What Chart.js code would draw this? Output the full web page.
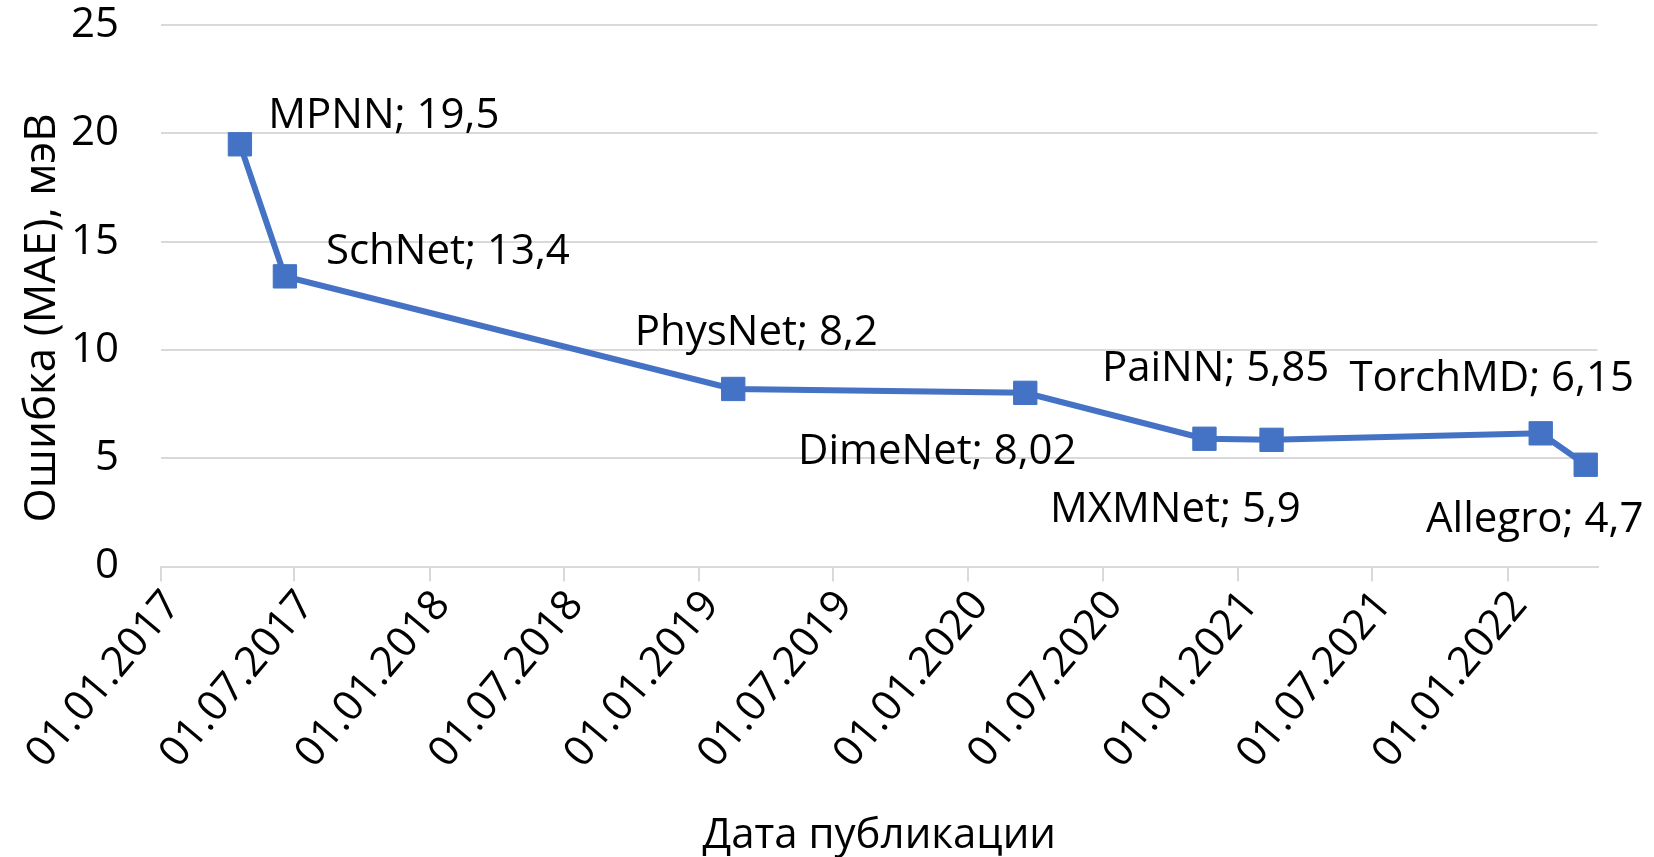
<!DOCTYPE html>
<html><head><meta charset="utf-8">
<script src="https://cdn.jsdelivr.net/npm/chart.js@4.4.1/dist/chart.umd.min.js"></script>
<style>html,body{margin:0;padding:0;background:#fff;overflow:hidden}#wrap{width:1654px;height:857px;position:relative}</style>
</head><body><div id="wrap"><canvas id="c" width="1654" height="857"></canvas></div>
<script>
// ---- data ----
const models = ['MPNN', 'SchNet', 'PhysNet', 'DimeNet', 'MXMNet', 'PaiNN', 'TorchMD', 'Allegro'];
const pubDates = ['18.04.2017', '18.06.2017', '16.02.2019', '18.03.2020', '16.11.2020', '15.02.2021', '15.02.2022', '17.04.2022'];
const maeValues = [19.5, 13.4, 8.2, 8.02, 5.9, 5.85, 6.15, 4.7];
const tickLabels = ['01.01.2017', '01.07.2017', '01.01.2018', '01.07.2018', '01.01.2019', '01.07.2019',
                    '01.01.2020', '01.07.2020', '01.01.2021', '01.07.2021', '01.01.2022'];
const axisStart = '01.01.2017';
const axisEnd = '03.05.2022';
const yTicks = [0, 5, 10, 15, 20, 25];
const xTitle = 'Дата публикации';
const yTitle = 'Ошибка (MAE), мэВ';

// ---- helpers ----
function dayOf(s) {
  const [d, m, y] = s.split('.').map(Number);
  const [d0, m0, y0] = axisStart.split('.').map(Number);
  return (Date.UTC(y, m - 1, d) - Date.UTC(y0, m0 - 1, d0)) / 86400000;
}
const points = pubDates.map((d, i) => ({ x: dayOf(d), y: maeValues[i] }));
const fmt = v => String(v).replace('.', ',');

// ---- style ----
const BLUE = '#4472C4';
const GRID = '#d9d9d9';
const FONT = "'Open Sans', 'DejaVu Sans', sans-serif";
const FS = 42;
// label placement: [dx from point to text centre, dy from point to baseline]
const labelOffsets = [[144, -16], [163, -12], [23, -44], [-88, 71], [-29, 83], [-56, -59], [-49, -42], [-51, 67]];

Chart.defaults.font.family = FONT;
Chart.defaults.font.size = FS;
Chart.defaults.color = '#000';

const labelPlugin = {
  id: 'pointLabels',
  afterDatasetsDraw(chart) {
    const ctx = chart.ctx;
    const meta = chart.getDatasetMeta(0);
    ctx.save();
    ctx.font = FS + 'px ' + FONT;
    ctx.fillStyle = '#000';
    ctx.textAlign = 'center';
    ctx.textBaseline = 'alphabetic';
    meta.data.forEach((el, i) => {
      const [dx, dy] = labelOffsets[i];
      ctx.fillText(models[i] + '; ' + fmt(maeValues[i]), el.x + dx, el.y + dy);
    });
    ctx.restore();
  }
};

new Chart(document.getElementById('c'), {
  type: 'line',
  data: {
    datasets: [{
      data: points,
      borderColor: BLUE,
      backgroundColor: BLUE,
      borderWidth: 6,
      pointStyle: 'rect',
      pointRadius: 16.5,
      pointBorderWidth: 1,
      pointBorderColor: BLUE,
      pointBackgroundColor: BLUE,
      tension: 0,
      clip: false
    }]
  },
  options: {
    responsive: false,
    animation: false,
    events: [],
    layout: { padding: { left: 0, top: 25, right: 56.5, bottom: 0 } },
    plugins: { legend: { display: false }, tooltip: { enabled: false } },
    scales: {
      x: {
        type: 'linear',
        min: dayOf(axisStart),
        max: dayOf(axisEnd),
        afterBuildTicks: s => { s.ticks = tickLabels.map(t => ({ value: dayOf(t) })); },
        afterFit: s => { s.height = 857 - 566.5; },
        ticks: {
          autoSkip: false, minRotation: 50, maxRotation: 50, padding: 0, labelOffset: 12,
          callback: (v, i) => tickLabels[i],
          font: { size: FS }
        },
        grid: { drawOnChartArea: false, drawTicks: true, tickLength: 15, color: GRID, lineWidth: 2 },
        border: { display: true, color: GRID, width: 2 },
        title: { display: true, text: xTitle, font: { size: FS, lineHeight: 1.0 }, padding: { top: 0, bottom: 0 } }
      },
      y: {
        min: 0, max: 25,
        afterBuildTicks: s => { s.ticks = yTicks.map(v => ({ value: v })); },
        afterFit: s => { s.width = 161; },
        ticks: { padding: 0, font: { size: FS } },
        grid: { color: GRID, lineWidth: 2, drawTicks: true, tickLength: 42, tickColor: 'rgba(0,0,0,0)' },
        border: { display: false },
        title: { display: true, text: yTitle + '\u2003', font: { size: 44 }, padding: { top: 16, bottom: 0 } }
      }
    }
  },
  plugins: [labelPlugin]
});
</script></body></html>
